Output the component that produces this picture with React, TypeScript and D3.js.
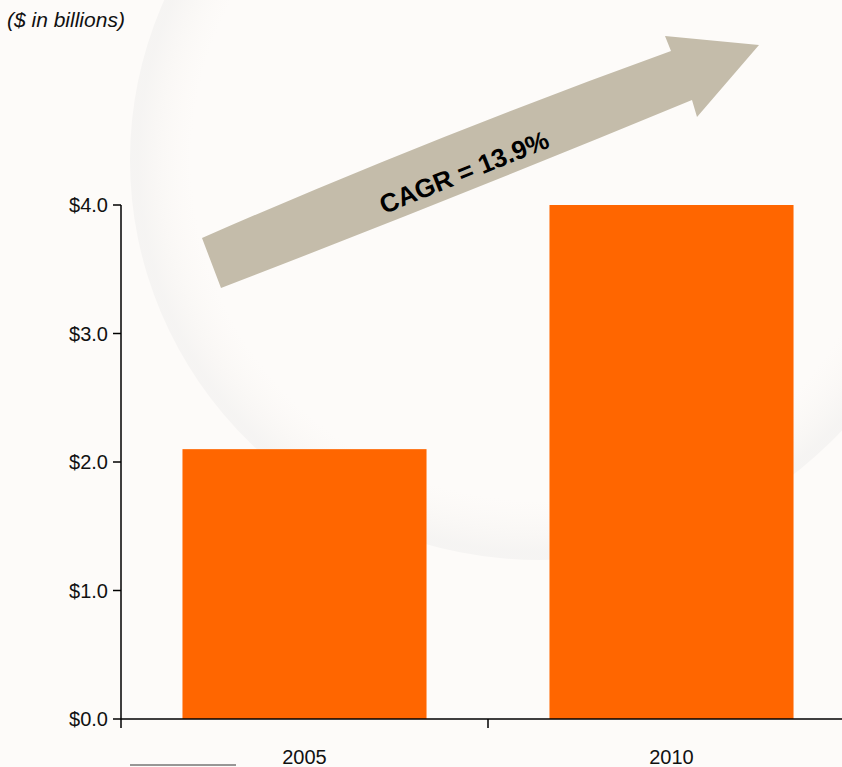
import { useMemo } from "react";
import * as d3 from "d3";

const years = ["2005", "2010"];
const revenue = [2.1, 4.0];
const yTicks = [0, 1, 2, 3, 4];
const cagrLabel = "CAGR = 13.9%";
const unitNote = "($ in billions)";

const W = 842;
const H = 767;
const ORANGE = "#ff6600";
const ARROW = "#c4bcaa";

export default function App() {
  const margin = { top: 205, left: 121, bottom: 48 };

  const { x, y } = useMemo(() => {
    const x = d3
      .scaleBand<string>()
      .domain(years)
      .range([margin.left, 855])
      .paddingInner(0.335)
      .paddingOuter(0.1675);
    const y = d3
      .scaleLinear()
      .domain([0, 4])
      .range([H - margin.bottom, margin.top]);
    return { x, y };
  }, []);

  const fmt = d3.format("$.1f");
  const y0 = y(0);
  const boundaries = d3.range(years.length + 1).map((i) => margin.left + i * x.step());

  // arrow outline, roughly following the slide
  const arrowPath = d3.path();
  arrowPath.moveTo(202, 238);
  arrowPath.quadraticCurveTo(430, 138, 671, 51);
  arrowPath.lineTo(665, 36);
  arrowPath.lineTo(759, 45);
  arrowPath.lineTo(697, 117);
  arrowPath.lineTo(692, 100);
  arrowPath.quadraticCurveTo(450, 200, 221, 288);
  arrowPath.closePath();

  const font = "Arial, 'Liberation Sans', Helvetica, sans-serif";

  return (
    <svg
      width={W}
      height={H}
      style={{ position: "absolute", left: 0, top: 0, fontFamily: font }}
    >
      <defs>
        <radialGradient id="bgSwoosh" cx="0.5" cy="0.5" r="0.5">
          <stop offset="0.85" stopColor="#f4efe9" stopOpacity={0} />
          <stop offset="0.98" stopColor="#e4e4e4" stopOpacity={0.3} />
          <stop offset="1" stopColor="#e4e4e4" stopOpacity={0.3} />
        </radialGradient>
      </defs>
      <rect width={W} height={H} fill="#fdfbf9" />
      <ellipse cx={540} cy={160} rx={410} ry={400} fill="url(#bgSwoosh)" />

      <text x={7} y={27} fontSize={21} fontStyle="italic" fill="#111">
        {unitNote}
      </text>

      {/* bars */}
      {years.map((yr, i) => (
        <rect
          key={yr}
          x={x(yr)}
          y={y(revenue[i])}
          width={x.bandwidth()}
          height={y0 - y(revenue[i])}
          fill={ORANGE}
        />
      ))}

      {/* y axis */}
      <line x1={margin.left} x2={margin.left} y1={y(4)} y2={y0} stroke="#000" strokeWidth={1.5} />
      {yTicks.map((t) => (
        <g key={t}>
          <line x1={margin.left - 8} x2={margin.left} y1={y(t)} y2={y(t)} stroke="#000" strokeWidth={1.5} />
          <text x={margin.left - 13} y={y(t)} dy="0.35em" textAnchor="end" fontSize={20} fill="#111">
            {fmt(t)}
          </text>
        </g>
      ))}

      {/* x axis */}
      <line x1={margin.left} x2={W} y1={y0} y2={y0} stroke="#000" strokeWidth={1.5} />
      {boundaries.map((b, i) => (
        <line key={i} x1={b} x2={b} y1={y0} y2={y0 + 9} stroke="#000" strokeWidth={1.5} />
      ))}
      {years.map((yr) => (
        <text
          key={yr}
          x={(x(yr) ?? 0) + x.bandwidth() / 2}
          y={764}
          textAnchor="middle"
          fontSize={20}
          fill="#111"
        >
          {yr}
        </text>
      ))}
      <line x1={130} x2={236} y1={765} y2={765} stroke="#333" strokeWidth={1} />

      {/* growth arrow */}
      <path d={arrowPath.toString()} fill={ARROW} />
      <text
        transform="translate(464,172) rotate(-22)"
        textAnchor="middle"
        dy="0.35em"
        fontSize={26}
        fontWeight="bold"
        fill="#000"
      >
        {cagrLabel}
      </text>
    </svg>
  );
}
